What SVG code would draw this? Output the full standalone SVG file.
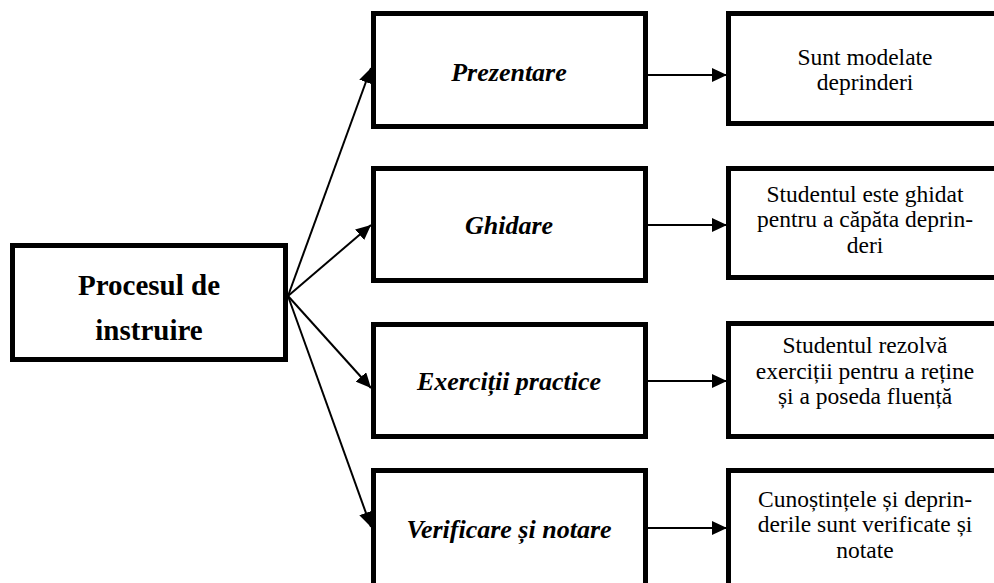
<svg xmlns="http://www.w3.org/2000/svg" width="994" height="583" viewBox="0 0 994 583">
  <style>
    .box { fill: #ffffff; stroke: #000000; stroke-width: 5; }
    .link { stroke: #000000; stroke-width: 2; fill: none; marker-end: url(#head); }
    .t { font-family: 'Liberation Serif', Tinos, 'Times New Roman', Times, 'DejaVu Serif', serif; fill: #000000; text-anchor: middle; }
    .root { font-size: 29px; font-weight: bold; }
    .step { font-size: 26px; font-weight: bold; font-style: italic; }
    .desc { font-size: 23.5px; }
  </style>
  <defs>
    <marker id="head" markerUnits="userSpaceOnUse" markerWidth="15" markerHeight="14" viewBox="0 0 15 14" refX="15" refY="7" orient="auto">
      <path d="M0,0 L15,7 L0,14 z" fill="#000000"/>
    </marker>
  </defs>
  <rect width="994" height="583" fill="#ffffff"/>

  <!-- connectors -->
  <g id="connectors">
    <line class="link" x1="288" y1="296" x2="371" y2="68"/>
    <line class="link" x1="288" y1="296" x2="371" y2="225"/>
    <line class="link" x1="288" y1="296" x2="371" y2="388"/>
    <line class="link" x1="288" y1="296" x2="371" y2="527"/>
    <line class="link" x1="648" y1="75" x2="727" y2="75"/>
    <line class="link" x1="648" y1="225" x2="727" y2="225"/>
    <line class="link" x1="648" y1="381" x2="727" y2="381"/>
    <line class="link" x1="648" y1="528" x2="727" y2="528"/>
  </g>

  <!-- root -->
  <g id="procesul">
    <rect class="box" x="12.5" y="245.5" width="273" height="114"/>
    <text class="t root" x="149" y="295">Procesul de</text>
    <text class="t root" x="149" y="340">instruire</text>
  </g>

  <!-- stages -->
  <g id="prezentare">
    <rect class="box" x="373.5" y="13.5" width="272" height="113"/>
    <text class="t step" x="509" y="81">Prezentare</text>
  </g>
  <g id="ghidare">
    <rect class="box" x="373.5" y="168.5" width="272" height="112"/>
    <text class="t step" x="509" y="234">Ghidare</text>
  </g>
  <g id="exercitii">
    <rect class="box" x="373.5" y="324.5" width="272" height="112"/>
    <text class="t step" x="509" y="390">Exerciții practice</text>
  </g>
  <g id="verificare">
    <rect class="box" x="373.5" y="470.5" width="272" height="115"/>
    <text class="t step" x="509" y="538">Verificare și notare</text>
  </g>

  <!-- descriptions -->
  <g id="desc-prezentare">
    <rect class="box" x="728.5" y="13.5" width="272" height="110"/>
    <text class="t desc" x="865" y="65">Sunt modelate</text>
    <text class="t desc" x="865" y="90">deprinderi</text>
  </g>
  <g id="desc-ghidare">
    <rect class="box" x="728.5" y="168.5" width="272" height="109"/>
    <text class="t desc" x="865" y="202">Studentul este ghidat</text>
    <text class="t desc" x="865" y="227">pentru a căpăta deprin-</text>
    <text class="t desc" x="865" y="253">deri</text>
  </g>
  <g id="desc-exercitii">
    <rect class="box" x="728.5" y="323.5" width="272" height="113"/>
    <text class="t desc" x="865" y="353">Studentul rezolvă</text>
    <text class="t desc" x="865" y="379">exerciții pentru a reține</text>
    <text class="t desc" x="865" y="404">și a poseda fluență</text>
  </g>
  <g id="desc-verificare">
    <rect class="box" x="728.5" y="470.5" width="272" height="115"/>
    <text class="t desc" x="865" y="507">Cunoștințele și deprin-</text>
    <text class="t desc" x="865" y="532">derile sunt verificate și</text>
    <text class="t desc" x="865" y="558">notate</text>
  </g>
</svg>
